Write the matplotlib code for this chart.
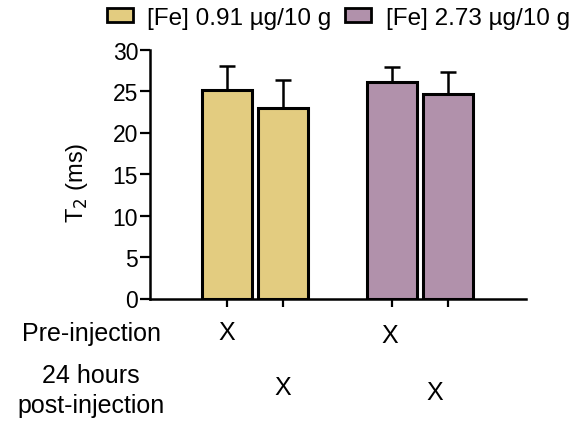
import matplotlib.pyplot as plt
import numpy as np

plt.rcParams['font.family'] = ['Liberation Sans', 'DejaVu Sans']

# data
groups = ['[Fe] 0.91 µg/10 g', '[Fe] 2.73 µg/10 g']
colors = ['#E3CC80', '#B191AB']
t2_mean = [25.1, 22.9, 26.1, 24.6]
t2_err = [2.9, 3.45, 1.85, 2.7]
bar_group = [0, 0, 1, 1]
yticks = [0, 5, 10, 15, 20, 25, 30]
row_labels = ['Pre-injection', '24 hours\npost-injection']
row_marks = [[True, False, True, False], [False, True, False, True]]

W, H = 569, 427
fig = plt.figure(figsize=(W / 100, H / 100), dpi=100)
ax = fig.add_axes([150 / W, 1 - 299.5 / H, (526 - 150) / W, 249 / H])

x = np.array([0, 1, 2.95, 3.95])
w = 0.89
for xi, m, e, g in zip(x, t2_mean, t2_err, bar_group):
    ax.bar(xi, m, width=w, color=colors[g], edgecolor='black', linewidth=2.2, zorder=2)
    ax.errorbar(xi, m, yerr=[[0], [e]], color='black', elinewidth=1.8,
                capsize=5.8, capthick=1.8, zorder=1)

ax.set_xlim(-1.375, 5.34)
ax.set_ylim(0, 30)
ax.set_yticks(yticks)
ax.set_xticks(x)
ax.set_xticklabels([])
ax.tick_params(axis='y', labelsize=16.5, width=1.6, length=7, pad=1.5)
ax.tick_params(axis='x', width=1.6, length=6)
for s in ['top', 'right']:
    ax.spines[s].set_visible(False)
for s in ['left', 'bottom']:
    ax.spines[s].set_linewidth(1.8)
ax.set_ylabel('T$_2$ (ms)', fontsize=17)
ax.yaxis.set_label_coords(-0.16, 0.47)

# legend
handles = [plt.Rectangle((0, 0), 1, 1, facecolor=c, edgecolor='black', linewidth=2)
           for c in colors]
fig.legend(handles, groups, loc='upper left', bbox_to_anchor=(97 / W, 1.005),
           ncol=2, frameon=False, fontsize=17.5, handlelength=1.07, handleheight=0.55,
           handletextpad=0.6, columnspacing=0.55, borderaxespad=0)

# condition table below axis
row_y = [[333, 336, 336, 336], [388, 388, 393, 393]]
mark_x = [227, 283, 390, 435]
label_y = [334, 391]
for r, lab in enumerate(row_labels):
    fig.text(91 / W, 1 - label_y[r] / H, lab, ha='center', va='center',
             fontsize=18, linespacing=1.32)
    for c, on in enumerate(row_marks[r]):
        if on:
            fig.text(mark_x[c] / W, 1 - row_y[r][c] / H, 'X', ha='center',
                     va='center', fontsize=18)

fig.savefig('out.png', dpi=100)
